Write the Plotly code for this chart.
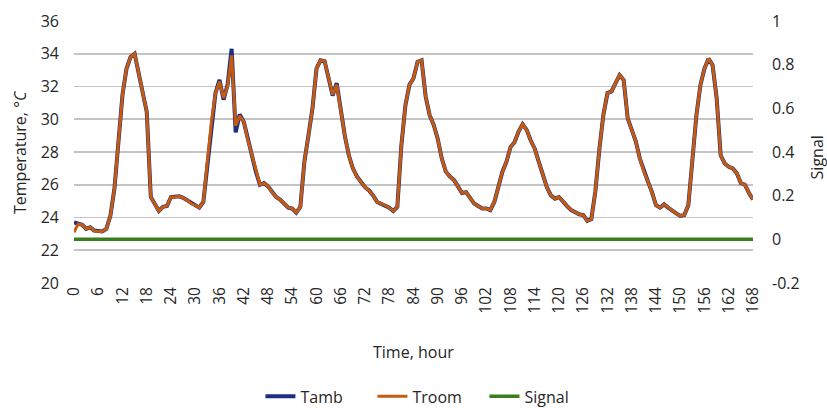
import plotly.graph_objects as go

hours = list(range(0, 169))

tamb = [
    23.7, 23.6, 23.55, 23.3, 23.4, 23.2, 23.15, 23.15, 23.3, 24.1,
    25.75, 28.6, 31.5, 33.1, 33.8, 34.0, 32.8, 31.7, 30.45, 25.25,
    24.85, 24.4, 24.65, 24.7, 25.25, 25.25, 25.3, 25.2, 25.05, 24.85,
    24.75, 24.6, 24.95, 27.2, 29.85, 31.6, 32.4, 31.2, 32.1, 34.3,
    29.2, 30.3, 29.85, 28.75, 27.8, 26.8, 26.0, 26.1, 25.9, 25.55,
    25.25, 25.1, 24.85, 24.6, 24.55, 24.3, 24.65, 27.4, 29.0, 30.65,
    33.1, 33.6, 33.55, 32.5, 31.45, 32.2, 30.45, 29.0, 27.8, 27.0,
    26.5, 26.15, 25.85, 25.65, 25.35, 24.95, 24.85, 24.75, 24.6, 24.4,
    24.65, 28.4, 30.85, 32.1, 32.5, 33.5, 33.6, 31.4, 30.25, 29.65,
    28.8, 27.6, 26.8, 26.5, 26.3, 25.9, 25.5, 25.55, 25.2, 24.85,
    24.7, 24.55, 24.55, 24.45, 24.95, 25.95, 26.8, 27.4, 28.3, 28.6,
    29.25, 29.7, 29.35, 28.7, 28.2, 27.4, 26.6, 25.85, 25.35, 25.15,
    25.25, 24.95, 24.7, 24.45, 24.3, 24.2, 24.15, 23.8, 23.9, 25.6,
    28.2, 30.3, 31.6, 31.7, 32.2, 32.7, 32.4, 30.05, 29.35, 28.65,
    27.6, 26.8, 26.2, 25.55, 24.75, 24.6, 24.8, 24.6, 24.4, 24.25,
    24.1, 24.15, 24.75, 27.6, 30.25, 32.1, 33.1, 33.7, 33.3, 31.3,
    27.8, 27.3, 27.1, 27.0, 26.7, 26.1, 26.0, 25.5, 25.1,
]

troom = [
    23.1, 23.6, 23.55, 23.3, 23.4, 23.2, 23.15, 23.15, 23.3, 24.1,
    25.75, 28.6, 31.5, 33.1, 33.8, 34.0, 32.8, 31.7, 30.45, 25.25,
    24.85, 24.4, 24.65, 24.7, 25.25, 25.25, 25.3, 25.2, 25.05, 24.85,
    24.75, 24.6, 24.95, 27.2, 29.85, 31.6, 32.3, 31.3, 32.0, 33.9,
    29.6, 30.2, 29.85, 28.75, 27.8, 26.8, 26.0, 26.1, 25.9, 25.55,
    25.25, 25.1, 24.85, 24.6, 24.55, 24.3, 24.65, 27.4, 29.0, 30.65,
    33.1, 33.6, 33.55, 32.5, 31.5, 32.1, 30.45, 29.0, 27.8, 27.0,
    26.5, 26.15, 25.85, 25.65, 25.35, 24.95, 24.85, 24.75, 24.6, 24.4,
    24.65, 28.4, 30.85, 32.1, 32.5, 33.5, 33.6, 31.4, 30.25, 29.65,
    28.8, 27.6, 26.8, 26.5, 26.3, 25.9, 25.5, 25.55, 25.2, 24.85,
    24.7, 24.55, 24.55, 24.45, 24.95, 25.95, 26.8, 27.4, 28.3, 28.6,
    29.25, 29.7, 29.35, 28.7, 28.2, 27.4, 26.6, 25.85, 25.35, 25.15,
    25.25, 24.95, 24.7, 24.45, 24.3, 24.2, 24.15, 23.8, 23.9, 25.6,
    28.2, 30.3, 31.6, 31.7, 32.2, 32.7, 32.4, 30.05, 29.35, 28.65,
    27.6, 26.8, 26.2, 25.55, 24.75, 24.6, 24.8, 24.6, 24.4, 24.25,
    24.1, 24.15, 24.75, 27.6, 30.25, 32.1, 33.1, 33.7, 33.3, 31.3,
    27.8, 27.3, 27.1, 27.0, 26.7, 26.1, 26.0, 25.5, 25.1,
]

signal = [
    0, 0, 0, 0, 0, 0, 0, 0, 0, 0, 0, 0, 0, 0, 0, 0, 0, 0, 0, 0,
    0, 0, 0, 0, 0, 0, 0, 0, 0, 0, 0, 0, 0, 0, 0, 0, 0, 0, 0, 0,
    0, 0, 0, 0, 0, 0, 0, 0, 0, 0, 0, 0, 0, 0, 0, 0, 0, 0, 0, 0,
    0, 0, 0, 0, 0, 0, 0, 0, 0, 0, 0, 0, 0, 0, 0, 0, 0, 0, 0, 0,
    0, 0, 0, 0, 0, 0, 0, 0, 0, 0, 0, 0, 0, 0, 0, 0, 0, 0, 0, 0,
    0, 0, 0, 0, 0, 0, 0, 0, 0, 0, 0, 0, 0, 0, 0, 0, 0, 0, 0, 0,
    0, 0, 0, 0, 0, 0, 0, 0, 0, 0, 0, 0, 0, 0, 0, 0, 0, 0, 0, 0,
    0, 0, 0, 0, 0, 0, 0, 0, 0, 0, 0, 0, 0, 0, 0, 0, 0, 0, 0, 0,
    0, 0, 0, 0, 0, 0, 0, 0, 0,
]

x_ticks = list(range(0, 169, 6))
y_ticks = [20, 22, 24, 26, 28, 30, 32, 34, 36]
y2_ticks = [-0.2, 0, 0.2, 0.4, 0.6, 0.8, 1]
y2_labels = ["-0.2", "0", "0.2", "0.4", "0.6", "0.8", "1"]

FONT = "Open Sans"
TXT = "#262626"

fig = go.Figure()
fig.add_trace(go.Scatter(x=hours, y=tamb, name="Tamb", mode="lines",
                         line=dict(color="#1c2f80", width=4)))
fig.add_trace(go.Scatter(x=hours, y=troom, name="Troom", mode="lines",
                         line=dict(color="#c55a11", width=3)))
fig.add_trace(go.Scatter(x=hours, y=signal, name="Signal", mode="lines", yaxis="y2",
                         line=dict(color="#3a7d1e", width=3.5)))

fig.update_layout(
    width=827, height=408,
    margin=dict(l=74, r=74, t=21, b=125, autoexpand=False),
    paper_bgcolor="white", plot_bgcolor="white",
    font=dict(family=FONT, size=16, color=TXT),
    showlegend=True,
    legend=dict(orientation="h", x=0.522, xanchor="center", y=-0.433, yanchor="middle",
                font=dict(size=16, color=TXT), entrywidth=67, entrywidthmode="pixels",
                tracegroupgap=0),
    xaxis=dict(range=[0, 168], tickmode="array", tickvals=x_ticks,
               ticktext=[str(v) for v in x_ticks], tickangle=-90, automargin=False,
               showgrid=False, zeroline=False, showline=False, ticks="",
               tickfont=dict(size=15.5, color=TXT)),
    yaxis=dict(range=[20, 36], tickmode="array", tickvals=y_ticks, automargin=False,
               showgrid=True, gridcolor="#c4c4c4", gridwidth=1.6,
               zeroline=False, showline=False, ticks="", ticklabelstandoff=14,
               tickfont=dict(size=16, color=TXT)),
    yaxis2=dict(range=[-0.2, 1], overlaying="y", side="right", tickmode="array",
                tickvals=y2_ticks, ticktext=y2_labels, automargin=False,
                showgrid=False, zeroline=False, showline=False, ticks="", ticklabelstandoff=18,
                tickfont=dict(size=16, color=TXT)),
    annotations=[
        dict(text="Temperature, °<i>C</i>", xref="paper", yref="paper", x=-0.0795, y=0.5,
             xanchor="center", yanchor="middle", textangle=-90, showarrow=False,
             font=dict(size=16, color=TXT)),
        dict(text="Signal", xref="paper", yref="paper", x=1.0945, y=0.48,
             xanchor="center", yanchor="middle", textangle=-90, showarrow=False,
             font=dict(size=16, color=TXT)),
        dict(text="Time, hour", xref="paper", yref="paper", x=0.5, y=-0.263,
             xanchor="center", yanchor="middle", showarrow=False,
             font=dict(size=16, color=TXT)),
    ],
)

fig.write_html("out.html", config={"displayModeBar": False, "staticPlot": True},
               post_script="document.body.style.margin='0';document.body.style.overflow='hidden';")
